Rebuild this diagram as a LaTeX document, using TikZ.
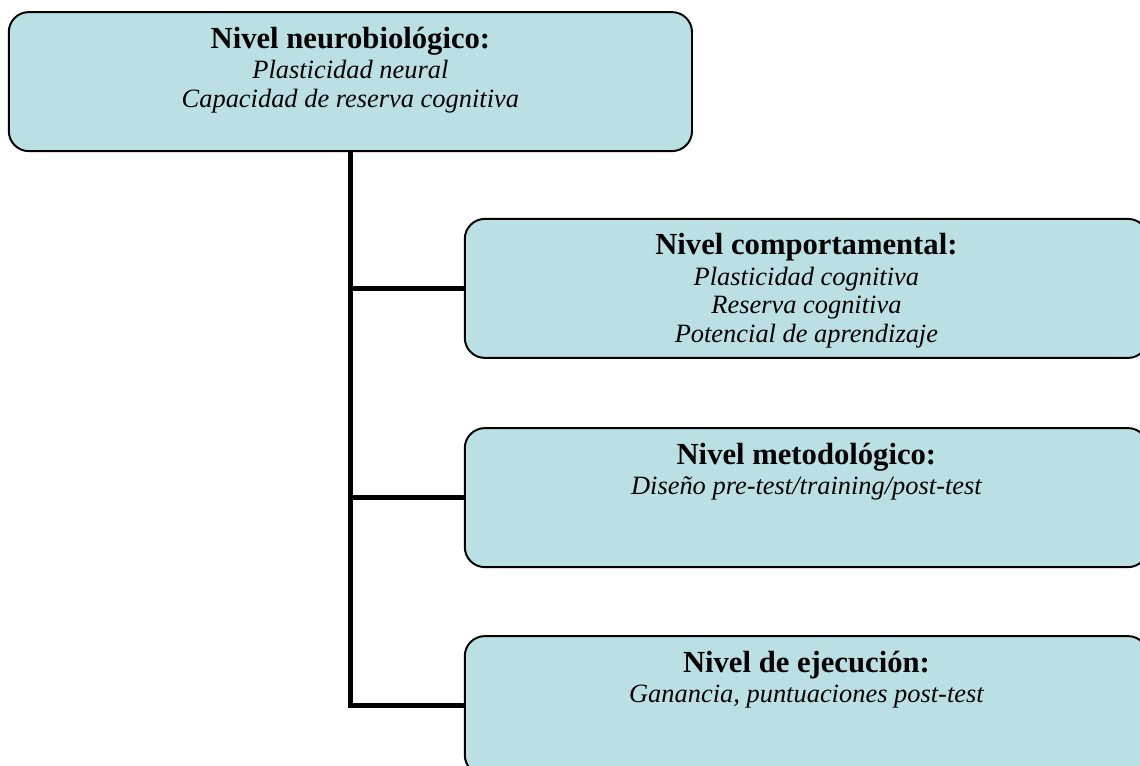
\documentclass[tikz,border=0pt]{standalone}
\usepackage{fontspec}
\setmainfont{Liberation Serif}
\usepackage{tikz}
\definecolor{boxcyan}{RGB}{187,224,227}
\newcommand{\lvltext}[2]{\parbox[c][3.475cm][t]{16.5cm}{\centering
  \fontsize{21.8pt}{21.8pt}\selectfont\bfseries\rule{0pt}{0.9cm}#1\\[1.4pt]
  \fontsize{18.8pt}{20.3pt}\selectfont\mdseries\itshape #2}}

\begin{document}
\begin{tikzpicture}[
        lvlbox/.style={draw, fill=boxcyan, rounded corners=0.5cm, line width=1.4pt,
                       inner sep=0pt, minimum width=17.08cm, minimum height=3.475cm},
        link/.style={line width=3.5pt}
    ]
    \useasboundingbox (0,0) rectangle (28.5,-19.125);
    \node[lvlbox] (neuro) at (8.76,-2.04)   {\lvltext{Nivel neurobiológico:}{Plasticidad neural\\Capacidad de reserva cognitiva}};
    \node[lvlbox] (comp)  at (20.16,-7.21)  {\lvltext{Nivel comportamental:}{Plasticidad cognitiva\\Reserva cognitiva\\Potencial de aprendizaje}};
    \node[lvlbox] (metod) at (20.16,-12.44) {\lvltext{Nivel metodológico:}{Diseño pre-test/training/post-test}};
    \node[lvlbox] (ejec)  at (20.16,-17.64) {\lvltext{Nivel de ejecución:}{Ganancia, puntuaciones post-test}};
    \draw[link] (neuro.south) |- (ejec.west);
    \draw[link] (neuro.south |- comp.west) -- (comp.west);
    \draw[link] (neuro.south |- metod.west) -- (metod.west);
    \end{tikzpicture}
\end{document}
